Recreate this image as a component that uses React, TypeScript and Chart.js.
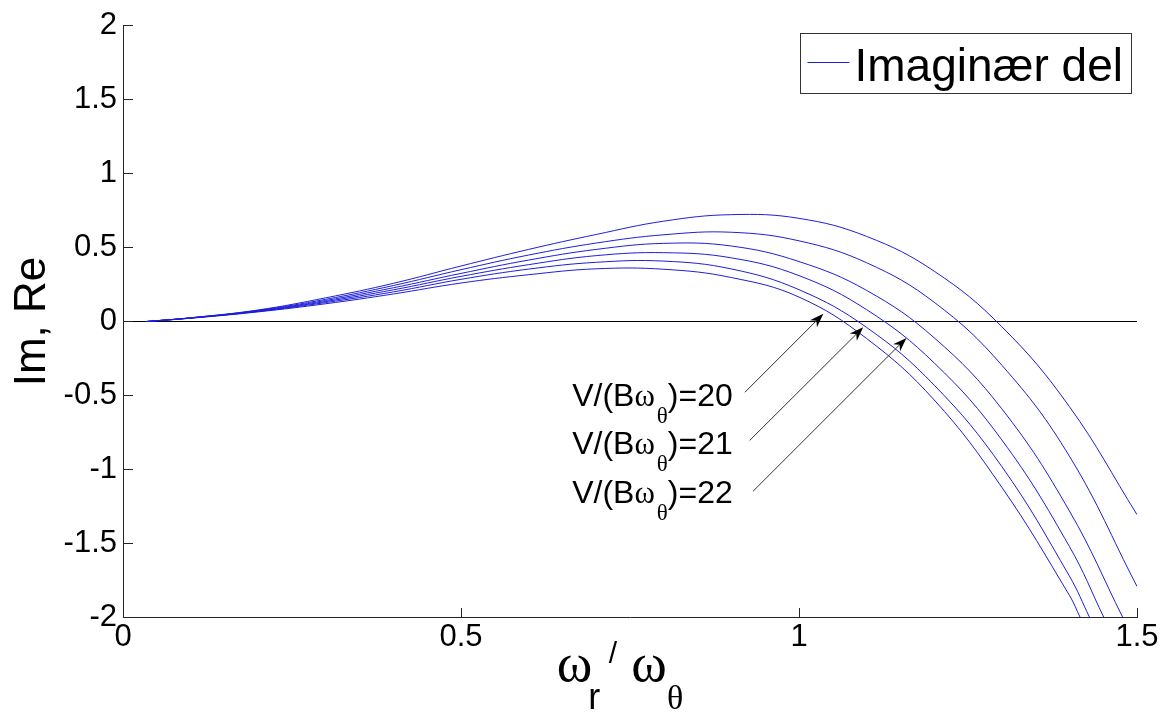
import React, { useEffect, useRef } from "react";
import { Chart, registerables } from "chart.js";

Chart.register(...registerables);

const SANS = '"Liberation Sans", Arial, sans-serif';
const SERIF = '"Liberation Serif", "Times New Roman", serif';

// axis ticks
const X_TICKS = [0, 0.5, 1, 1.5];
const Y_TICKS = [-2, -1.5, -1, -0.5, 0, 0.5, 1, 1.5, 2];

// omega_r / omega_theta sample positions
const OMEGA_R = [0.035, 0.1, 0.2, 0.3, 0.4, 0.5, 0.6, 0.7, 0.8, 0.9, 1.0, 1.1, 1.2, 1.3, 1.4];

// imaginary part curves
const IM_1 = [0, 0.025, 0.078, 0.16, 0.258, 0.375, 0.487, 0.588, 0.678, 0.722, 0.697, 0.575, 0.34, -0.035, -0.575];
const IM_2 = [0, 0.025, 0.075, 0.15, 0.243, 0.35, 0.449, 0.53, 0.586, 0.603, 0.545, 0.397, 0.13, -0.295, -0.91];
const IM_3 = [0, 0.024, 0.072, 0.142, 0.228, 0.325, 0.415, 0.487, 0.528, 0.51, 0.405, 0.21, -0.11, -0.59, -1.28];
const IM_4 = [0, 0.024, 0.07, 0.135, 0.214, 0.305, 0.384, 0.445, 0.465, 0.43, 0.31, 0.08, -0.28, -0.8, -1.52];
const IM_5 = [0, 0.023, 0.068, 0.128, 0.2, 0.285, 0.354, 0.4, 0.408, 0.355, 0.215, -0.04, -0.43, -0.98, -1.72];
const IM_6 = [0, 0.022, 0.065, 0.12, 0.186, 0.26, 0.316, 0.356, 0.353, 0.297, 0.165, -0.115, -0.53, -1.12, -1.85];

// last point of each curve (end of axis or where it leaves the bottom)
const END_X = [1.5, 1.5, 1.479, 1.451, 1.43, 1.416];
const END_Y = [-1.305, -1.79, -2, -2, -2, -2];

// reference line
const ZERO_X = [0, 1.5];
const ZERO_Y = [0, 0];

// annotations
const ANNOT_VALUES = ["20", "21", "22"];
const ARROW_TAIL_X = [0.92, 0.927, 0.932];
const ARROW_TAIL_Y = [-0.478, -0.804, -1.147];
const ARROW_TIP_X = [1.036, 1.095, 1.159];
const ARROW_TIP_Y = [0.052, -0.039, -0.111];
const LABEL_RIGHT_X = [0.902, 0.902, 0.902];
const LABEL_BASE_Y = [-0.568, -0.892, -1.223];

const LEGEND_LABEL = "Imaginær del";
const Y_TITLE = "Im, Re";

const LINE_COLOR = "rgb(30,30,215)";
const AXIS_COLOR = "#262626";

type Seg = { text: string; font: string; dy?: number; dx?: number };

function segWidth(ctx: CanvasRenderingContext2D, segs: Seg[]) {
  let w = 0;
  for (const s of segs) {
    ctx.font = s.font;
    w += ctx.measureText(s.text).width + (s.dx || 0);
  }
  return w;
}

function drawSegs(ctx: CanvasRenderingContext2D, segs: Seg[], x0: number, base: number) {
  let cx = x0;
  for (const s of segs) {
    ctx.font = s.font;
    cx += s.dx || 0;
    ctx.fillText(s.text, cx, base + (s.dy || 0));
    cx += ctx.measureText(s.text).width;
  }
}

function drawArrow(ctx: CanvasRenderingContext2D, x0: number, y0: number, x1: number, y1: number) {
  const ang = Math.atan2(y1 - y0, x1 - x0);
  const c = Math.cos(ang), s = Math.sin(ang);
  const len = 14, hw = 5;
  const bx = x1 - len * c, by = y1 - len * s;
  const nx = x1 - len * 0.7 * c, ny = y1 - len * 0.7 * s;
  ctx.strokeStyle = "#303030";
  ctx.lineWidth = 1;
  ctx.beginPath();
  ctx.moveTo(x0, y0);
  ctx.lineTo(nx, ny);
  ctx.stroke();
  ctx.fillStyle = "#000";
  ctx.beginPath();
  ctx.moveTo(x1, y1);
  ctx.lineTo(bx - s * hw, by + c * hw);
  ctx.lineTo(nx, ny);
  ctx.lineTo(bx + s * hw, by - c * hw);
  ctx.closePath();
  ctx.fill();
}

const overlay = {
  id: "overlay",
  afterDraw(chart: any) {
    const { ctx, chartArea: ca, scales } = chart;
    const xs = scales.x, ys = scales.y;
    const left = Math.round(ca.left);
    const bottom = Math.round(ca.bottom);
    ctx.save();

    // inward tick marks
    ctx.strokeStyle = AXIS_COLOR;
    ctx.lineWidth = 1;
    ctx.beginPath();
    X_TICKS.forEach((v) => {
      const px = Math.round(xs.getPixelForValue(v)) + 0.5;
      ctx.moveTo(px, bottom);
      ctx.lineTo(px, bottom - 10);
    });
    Y_TICKS.forEach((v) => {
      const py = Math.floor(ys.getPixelForValue(v)) + 0.5;
      ctx.moveTo(left, py);
      ctx.lineTo(left + 10, py);
    });
    ctx.stroke();

    // arrows + labels
    ctx.textAlign = "left";
    ctx.textBaseline = "alphabetic";
    ANNOT_VALUES.forEach((val, i) => {
      drawArrow(
        ctx,
        xs.getPixelForValue(ARROW_TAIL_X[i]),
        ys.getPixelForValue(ARROW_TAIL_Y[i]),
        xs.getPixelForValue(ARROW_TIP_X[i]),
        ys.getPixelForValue(ARROW_TIP_Y[i])
      );
      const segs: Seg[] = [
        { text: "V/(B", font: `32px ${SANS}` },
        { text: "ω", font: `31px ${SERIF}` },
        { text: "θ", font: `23px ${SERIF}`, dy: 17, dx: 2 },
        { text: `)=${val}`, font: `32px ${SANS}` },
      ];
      const w = segWidth(ctx, segs);
      ctx.fillStyle = "#000";
      drawSegs(ctx, segs, xs.getPixelForValue(LABEL_RIGHT_X[i]) - w, ys.getPixelForValue(LABEL_BASE_Y[i]));
    });

    // legend
    ctx.font = `46px ${SANS}`;
    const tw = ctx.measureText(LEGEND_LABEL).width;
    const boxW = Math.round(7 + 42 + 5 + tw + 9);
    const boxH = 60;
    const bx = Math.round(ca.right - 6 - boxW) + 0.5;
    const by = Math.round(ca.top + 7) + 0.5;
    ctx.fillStyle = "#fff";
    ctx.fillRect(bx, by, boxW, boxH);
    ctx.strokeStyle = "#333";
    ctx.lineWidth = 1;
    ctx.strokeRect(bx, by, boxW, boxH);
    ctx.strokeStyle = LINE_COLOR;
    ctx.beginPath();
    ctx.moveTo(bx + 7, by + 29);
    ctx.lineTo(bx + 49, by + 29);
    ctx.stroke();
    ctx.fillStyle = "#000";
    ctx.fillText(LEGEND_LABEL, bx + 54, by + 47);

    // y title
    ctx.save();
    ctx.translate(45, (ca.top + ca.bottom) / 2);
    ctx.rotate(-Math.PI / 2);
    ctx.textAlign = "center";
    ctx.font = `44px ${SANS}`;
    ctx.fillText(Y_TITLE, 0, 0);
    ctx.restore();

    // x title
    const xsegs: Seg[] = [
      { text: "ω", font: `54px ${SERIF}` },
      { text: "r", font: `36px ${SANS}`, dy: 28, dx: -4 },
      { text: " / ", font: `30px ${SANS}`, dy: -18 },
      { text: "ω", font: `54px ${SERIF}`, dx: 6 },
      { text: "θ", font: `34px ${SERIF}`, dy: 28 },
    ];
    const xw = segWidth(ctx, xsegs);
    const cx = (ca.left + ca.right) / 2 - 10;
    drawSegs(ctx, xsegs, cx - xw / 2, bottom + 63);

    ctx.restore();
  },
};

function curve(vals: number[], i: number) {
  const pts = OMEGA_R.map((x, k) => ({ x, y: vals[k] }));
  pts.push({ x: END_X[i], y: END_Y[i] });
  return pts;
}

export default function App() {
  const ref = useRef<HTMLCanvasElement | null>(null);

  useEffect(() => {
    if (!ref.current) return;
    const series = [IM_1, IM_2, IM_3, IM_4, IM_5, IM_6];
    const datasets: any[] = series.map((vals, i) => ({
      label: i === 0 ? LEGEND_LABEL : `c${i}`,
      data: curve(vals, i),
      borderColor: LINE_COLOR,
      borderWidth: 1,
      pointRadius: 0,
      fill: false,
      tension: 0.4,
    }));
    datasets.push({
      label: "zero",
      data: ZERO_X.map((x, k) => ({ x, y: ZERO_Y[k] })),
      borderColor: "#000",
      borderWidth: 1,
      pointRadius: 0,
      fill: false,
    });

    const tickFont = { family: SANS, size: 31 };
    const chart = new Chart(ref.current, {
      type: "line",
      data: { datasets },
      options: {
        animation: false,
        responsive: false,
        maintainAspectRatio: false,
        layout: { padding: { top: 25.5, right: 25, left: 0, bottom: 0 } },
        plugins: { legend: { display: false }, tooltip: { enabled: false } },
        events: [],
        scales: {
          x: {
            type: "linear",
            min: 0,
            max: 1.5,
            afterFit: (s: any) => {
              s.height = 97.5;
            },
            grid: { display: false, drawTicks: false },
            border: { display: true, color: AXIS_COLOR, width: 1 },
            ticks: {
              stepSize: 0.5,
              autoSkip: false,
              maxRotation: 0,
              padding: 1,
              color: "#000",
              font: tickFont,
              callback: (v: any) => `${+Number(v).toFixed(2)}`,
            },
          },
          y: {
            type: "linear",
            min: -2,
            max: 2,
            afterFit: (s: any) => {
              s.width = 123;
            },
            grid: { display: false, drawTicks: false },
            border: { display: true, color: AXIS_COLOR, width: 1 },
            ticks: {
              stepSize: 0.5,
              autoSkip: false,
              padding: 6,
              color: "#000",
              font: tickFont,
              callback: (v: any) => `${+Number(v).toFixed(2)}`,
            },
          },
        },
      } as any,
      plugins: [overlay],
    });
    return () => chart.destroy();
  }, []);

  return (
    <div style={{ position: "fixed", left: 0, top: 0, width: 1162, height: 715, background: "#fff" }}>
      <canvas ref={ref} width={1162} height={715} style={{ display: "block" }} />
    </div>
  );
}
